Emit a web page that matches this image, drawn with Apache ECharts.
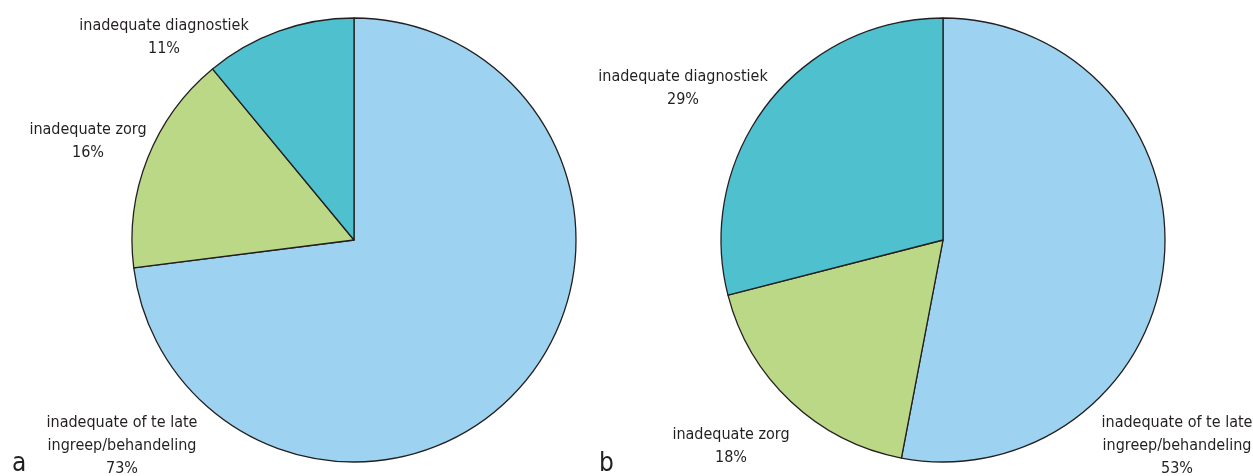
<!DOCTYPE html>
<html>
<head>
<meta charset="utf-8">
<script src="https://cdn.jsdelivr.net/npm/echarts@6/dist/echarts.min.js"></script>
<style>
html,body{margin:0;padding:0;background:#fff;}
#chart{width:1253px;height:476px;}
</style>
</head>
<body>
<div id="chart"></div>
<script>
// Data
const categories = ['inadequate of te late\ningreep/behandeling', 'inadequate zorg', 'inadequate diagnostiek'];
const valuesA = [73, 16, 11];
const valuesB = [53, 18, 29];
const panelLabels = ['a', 'b'];

const colors = ['#9dd3f0', '#bbd886', '#4fc0ce'];
const textColor = '#231f20';
const font = '"DejaVu Sans Condensed", "Liberation Sans Narrow", sans-serif';

// label anchor positions per panel, per category index
const labelPosA = [[122, 446], [88, 141], [164, 37]];
const labelPosB = [[1177, 446], [731, 446], [683, 88]];

function makeSeries(values, center, pos) {
  return {
    type: 'pie',
    center: center,
    radius: 222,
    startAngle: 90,
    clockwise: true,
    animation: false,
    silent: true,
    itemStyle: { borderColor: textColor, borderWidth: 1.3 },
    label: {
      show: true,
      position: 'outside',
      overflow: 'none',
      formatter: function (p) { return p.name + '\n' + p.value + '%'; },
      color: textColor,
      fontFamily: font,
      fontSize: 16,
      lineHeight: 23,
      align: 'center'
    },
    labelLine: { show: false },
    labelLayout: function (params) {
      const pt = pos[params.dataIndex];
      return { x: pt[0], y: pt[1], align: 'center', verticalAlign: 'middle', hideOverlap: false, moveOverlap: false };
    },
    data: categories.map(function (c, i) {
      return { name: c, value: values[i], itemStyle: { color: colors[i] } };
    })
  };
}

const chart = echarts.init(document.getElementById('chart'), null, { renderer: 'canvas' });
chart.setOption({
  backgroundColor: '#ffffff',
  animation: false,
  series: [
    makeSeries(valuesA, [354, 240], labelPosA),
    makeSeries(valuesB, [943, 240], labelPosB)
  ],
  graphic: [
    { type: 'text', left: 12, top: 451, style: { text: panelLabels[0], fontSize: 26, fontFamily: font, fill: textColor } },
    { type: 'text', left: 599, top: 451, style: { text: panelLabels[1], fontSize: 26, fontFamily: font, fill: textColor } }
  ]
});
</script>
</body>
</html>
